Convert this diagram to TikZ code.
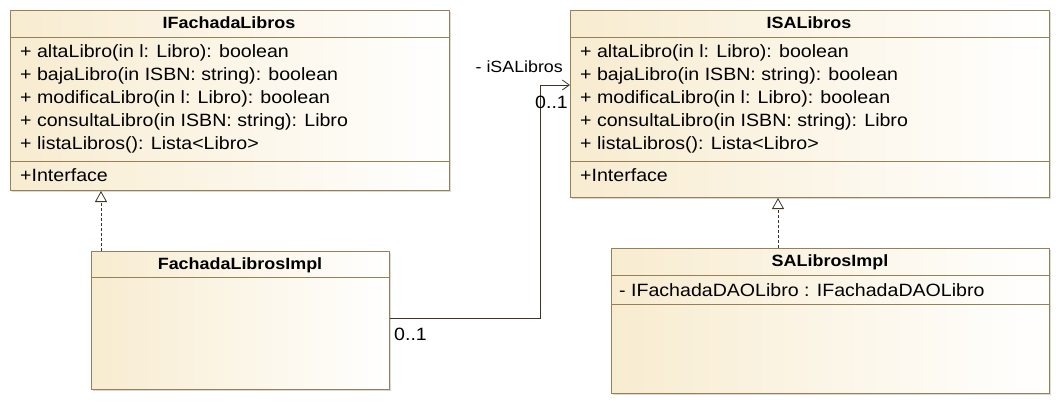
\documentclass[tikz,border=0pt]{standalone}
\usepackage{fontspec}
\setmainfont{Liberation Sans}[FakeStretch=1.1]
\usetikzlibrary{arrows.meta,positioning,shadows}

\definecolor{umlborde}{RGB}{150,128,88}
\definecolor{umlcrema}{RGB}{248,236,208}
\definecolor{umllinea}{RGB}{64,52,40}

\tikzset{
  clase/.style={draw=umlborde,line width=1pt,left color=umlcrema,right color=white,
    anchor=north west,inner sep=0pt,
    drop shadow={shadow xshift=1.5pt,shadow yshift=-1.5pt,fill=black,opacity=0.15}},
  titulo/.style={font=\bfseries\fontsize{16.3}{19}\selectfont,inner sep=0pt},
  miembro/.style={font=\fontsize{17.8}{21}\selectfont,anchor=west,inner sep=0pt},
  separa/.style={draw=umlborde,line width=1pt},
  realiza/.style={draw=umllinea,dashed,dash pattern=on 3pt off 2pt,line width=0.8pt,
    -{Triangle[open,length=11pt,width=12pt,fill=white]}},
  asocia/.style={draw=umllinea,line width=1pt,-{Straight Barb[length=7pt,width=10pt,line width=0.8pt]}}
}

\begin{document}
\begin{tikzpicture}[x=1pt,y=-1pt]
\useasboundingbox (0,0) rectangle (1061,405);

\node[clase,minimum width=439pt,minimum height=180pt] (fachada) at (10,10) {};
\draw[separa] (10,37) -- (449,37);
\draw[separa] (10,161) -- (449,161);
\node[titulo] (tfachada) at (229,23) {IFachadaLibros};
\node[miembro] (fa1) at (20,53) {+ altaLibro(in l: Libro): boolean};
\node[miembro] (fa2) at (20,76) {+ bajaLibro(in ISBN: string): boolean};
\node[miembro] (fa3) at (20,99) {+ modificaLibro(in l: Libro): boolean};
\node[miembro] (fa4) at (20,122) {+ consultaLibro(in ISBN: string): Libro};
\node[miembro] (fa5) at (20,145) {+ listaLibros(): Lista<Libro>};
\node[miembro] (fa6) at (20,175) {+Interface};

\node[clase,minimum width=479pt,minimum height=187pt] (sa) at (570,10) {};
\draw[separa] (570,37) -- (1049,37);
\draw[separa] (570,161) -- (1049,161);
\node[titulo] (tsa) at (809,23) {ISALibros};
\node[miembro] (sa1) at (580,53) {+ altaLibro(in l: Libro): boolean};
\node[miembro] (sa2) at (580,76) {+ bajaLibro(in ISBN: string): boolean};
\node[miembro] (sa3) at (580,99) {+ modificaLibro(in l: Libro): boolean};
\node[miembro] (sa4) at (580,122) {+ consultaLibro(in ISBN: string): Libro};
\node[miembro] (sa5) at (580,145) {+ listaLibros(): Lista<Libro>};
\node[miembro] (sa6) at (580,175) {+Interface};

\node[clase,minimum width=298pt,minimum height=138pt] (fachadaimpl) at (91,251) {};
\draw[separa] (91,277) -- (389,277);
\node[titulo] (tfachadaimpl) at (240,265) {FachadaLibrosImpl};

\node[clase,minimum width=438pt,minimum height=145pt] (saimpl) at (611,248) {};
\draw[separa] (611,275) -- (1049,275);
\draw[separa] (611,304) -- (1049,304);
\node[titulo] (tsaimpl) at (830,262) {SALibrosImpl};
\node[miembro] (saimpl1) at (619,290) {- IFachadaDAOLibro : IFachadaDAOLibro};

\draw[realiza] (fachadaimpl.north west -| 101,0) -- (fachada.south west -| 101,0);
\draw[realiza] (saimpl.north west -| 778,0) -- (sa.south west -| 778,0);

\coordinate (codo1) at (540,318);
\coordinate (codo2) at (540,85);
\draw[asocia] (fachadaimpl.east |- codo1) -- (codo1) -- (codo2) -- (sa.west |- codo2);
\node[miembro,font=\fontsize{16.2}{19}\selectfont,anchor=east] (rol) at (563,67) {- iSALibros};
\node[miembro] (mult1) at (535,102) {0..1};
\node[miembro] (mult2) at (394,334) {0..1};
\end{tikzpicture}
\end{document}
